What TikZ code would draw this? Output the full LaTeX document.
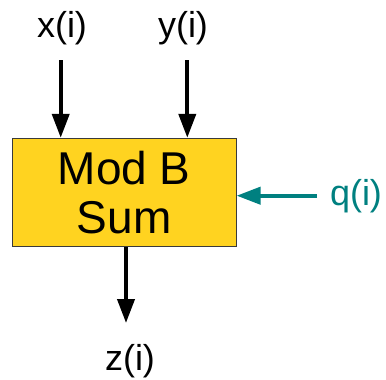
\documentclass[tikz,border=0pt]{standalone}
\usepackage{fontspec}
\setmainfont{Liberation Sans}
\usetikzlibrary{arrows.meta}
\definecolor{boxyellow}{HTML}{FFD320}
\definecolor{tealq}{HTML}{008080}
\definecolor{boxedge}{HTML}{3A3A3A}
\tikzset{
  lbl/.style={anchor=base, inner sep=0pt, font=\fontsize{36}{40}\selectfont},
  blockbox/.style={draw=boxedge, line width=1pt, fill=boxyellow, inner sep=0pt,
    minimum width=223.7pt, minimum height=108.4pt, align=center,
    font=\fontsize{46}{49}\selectfont},
  sig/.style={line width=4pt, -{Triangle[width=17pt,length=24pt]}},
}
\begin{document}
\begin{tikzpicture}[x=1pt,y=-1pt]
\useasboundingbox (0,0) rectangle (386,380);
\node[blockbox] (box) at (124.2,192.5) {Mod B\\Sum};
\node[lbl] (xl) at (62,37.4) {x(i)};
\node[lbl] (yl) at (183,37.4) {y(i)};
\node[lbl, text=tealq] (ql) at (356,205.7) {q(i)};
\node[lbl] (zl) at (130,370.7) {z(i)};
\coordinate (xs) at (60.7,60);
\coordinate (ys) at (187.3,60);
\coordinate (qs) at (317,195.7);
\coordinate (ze) at (126,323);
\draw[sig] (xs) -- (xs |- box.north);
\draw[sig] (ys) -- (ys |- box.north);
\draw[sig, draw=tealq, fill=tealq] (qs) -- (qs -| box.east);
\draw[sig] (ze |- box.south) -- (ze);
\end{tikzpicture}
\end{document}
